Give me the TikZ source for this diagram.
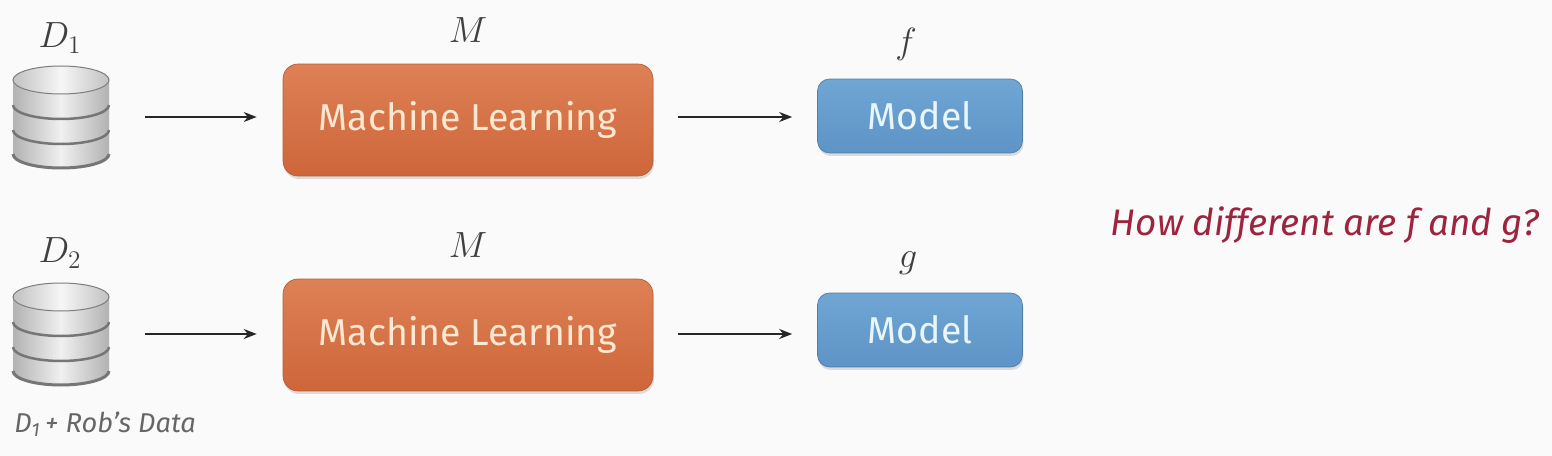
\documentclass[tikz,border=0pt]{standalone}
\usepackage{fontspec}
\setmainfont{Fira Sans}
\usetikzlibrary{arrows.meta,shadows}

\definecolor{pagebg}{RGB}{250,250,251}
\definecolor{mltop}{RGB}{222,128,86}
\definecolor{mlbottom}{RGB}{206,102,58}
\definecolor{mltext}{RGB}{252,232,208}
\definecolor{modtop}{RGB}{112,166,212}
\definecolor{modbottom}{RGB}{94,148,198}
\definecolor{modtext}{RGB}{232,246,250}
\definecolor{askred}{RGB}{158,36,62}
\definecolor{dbside}{RGB}{178,178,178}
\definecolor{dblight}{RGB}{240,240,240}
\definecolor{dbband}{RGB}{118,118,118}

\tikzset{
  learnbox/.style={rectangle, rounded corners=0.3cm, minimum width=7.4cm,
    minimum height=2.24cm, top color=mltop, bottom color=mlbottom,
    draw=mlbottom!90!black, text=mltext, font=\fontsize{21.3}{25}\selectfont,
    drop shadow={shadow xshift=0.02cm, shadow yshift=-0.06cm, opacity=0.25}},
  modelbox/.style={rectangle, rounded corners=0.24cm, minimum width=4.1cm,
    minimum height=1.48cm, top color=modtop, bottom color=modbottom,
    draw=modbottom!85!black, text=modtext, font=\fontsize{21.3}{25}\selectfont,
    drop shadow={shadow xshift=0.02cm, shadow yshift=-0.06cm, opacity=0.25}},
  dbslot/.style={inner sep=0pt, minimum width=1.94cm, minimum height=2.08cm},
  mathlab/.style={font=\fontsize{20}{24}\selectfont, text=black!75},
  flow/.style={-{Stealth[length=0.26cm, width=0.2cm]}, line width=0.04cm, black!85},
  pics/dbicon/.style={code={
    \shade[left color=dbside, right color=dbside, middle color=dblight]
      (-48,-37) -- (-48,37) arc[start angle=180, end angle=0, x radius=48, y radius=14]
      -- (48,-37) arc[start angle=0, end angle=180, x radius=48, y radius=14] -- cycle;
    \shade[left color=dbside!80, right color=dbside!80, middle color=dblight!60!white]
      (0,-37) ellipse[x radius=48, y radius=14];
    \draw[dbside!70!black, line width=0.02cm] (0,-37) ellipse[x radius=48, y radius=14];
    \draw[dbband, line width=0.05cm] (-48,-12) arc[start angle=180, end angle=0, x radius=48, y radius=14];
    \draw[dbband, line width=0.05cm] (-48,13) arc[start angle=180, end angle=0, x radius=48, y radius=14];
    \draw[dbband, line width=0.06cm] (-48,37) arc[start angle=180, end angle=0, x radius=48, y radius=14];
  }}
}

\begin{document}
\begin{tikzpicture}[x=0.02cm, y=-0.02cm]
  \fill[pagebg] (0,0) rectangle (1552,456);

  % first row
  \node (db1) at (61,117) [dbslot] {};
  \pic at (db1) {dbicon};
  \node (d1lab) at (60,38) [mathlab] {$D_1$};
  \node (ml1) at (468,120) [learnbox] {Machine Learning};
  \node (m1lab) at (468,30) [mathlab] {$M$};
  \node (mod1) at (920,116) [modelbox] {Model};
  \node (flab) at (906,44) [mathlab] {$f$};
  \draw[flow, shorten <=0.7cm, shorten >=0.52cm] (db1) -- (db1 -| ml1.west);
  \draw[flow, shorten <=0.5cm, shorten >=0.5cm] (ml1.east |- db1) -- (db1 -| mod1.west);

  % second row
  \node (db2) at (61,334) [dbslot] {};
  \pic at (db2) {dbicon};
  \node (d2lab) at (60,253) [mathlab] {$D_2$};
  \node (ml2) at (468,335) [learnbox] {Machine Learning};
  \node (m2lab) at (468,245) [mathlab] {$M$};
  \node (mod2) at (920,330) [modelbox] {Model};
  \node (glab) at (908,263) [mathlab] {$g$};
  \draw[flow, shorten <=0.7cm, shorten >=0.52cm] (db2) -- (db2 -| ml2.west);
  \draw[flow, shorten <=0.5cm, shorten >=0.5cm] (ml2.east |- db2) -- (db2 -| mod2.west);

  \node (roblab) at (105,424) [text=black!60, font=\fontsize{15.5}{18}\selectfont\itshape] {D\textsubscript{1}\,+ Rob’s Data};

  \node (ask) at (1325,225) [text=askred, font=\fontsize{21}{25}\selectfont\itshape] {How different are f and g?};
\end{tikzpicture}
\end{document}
